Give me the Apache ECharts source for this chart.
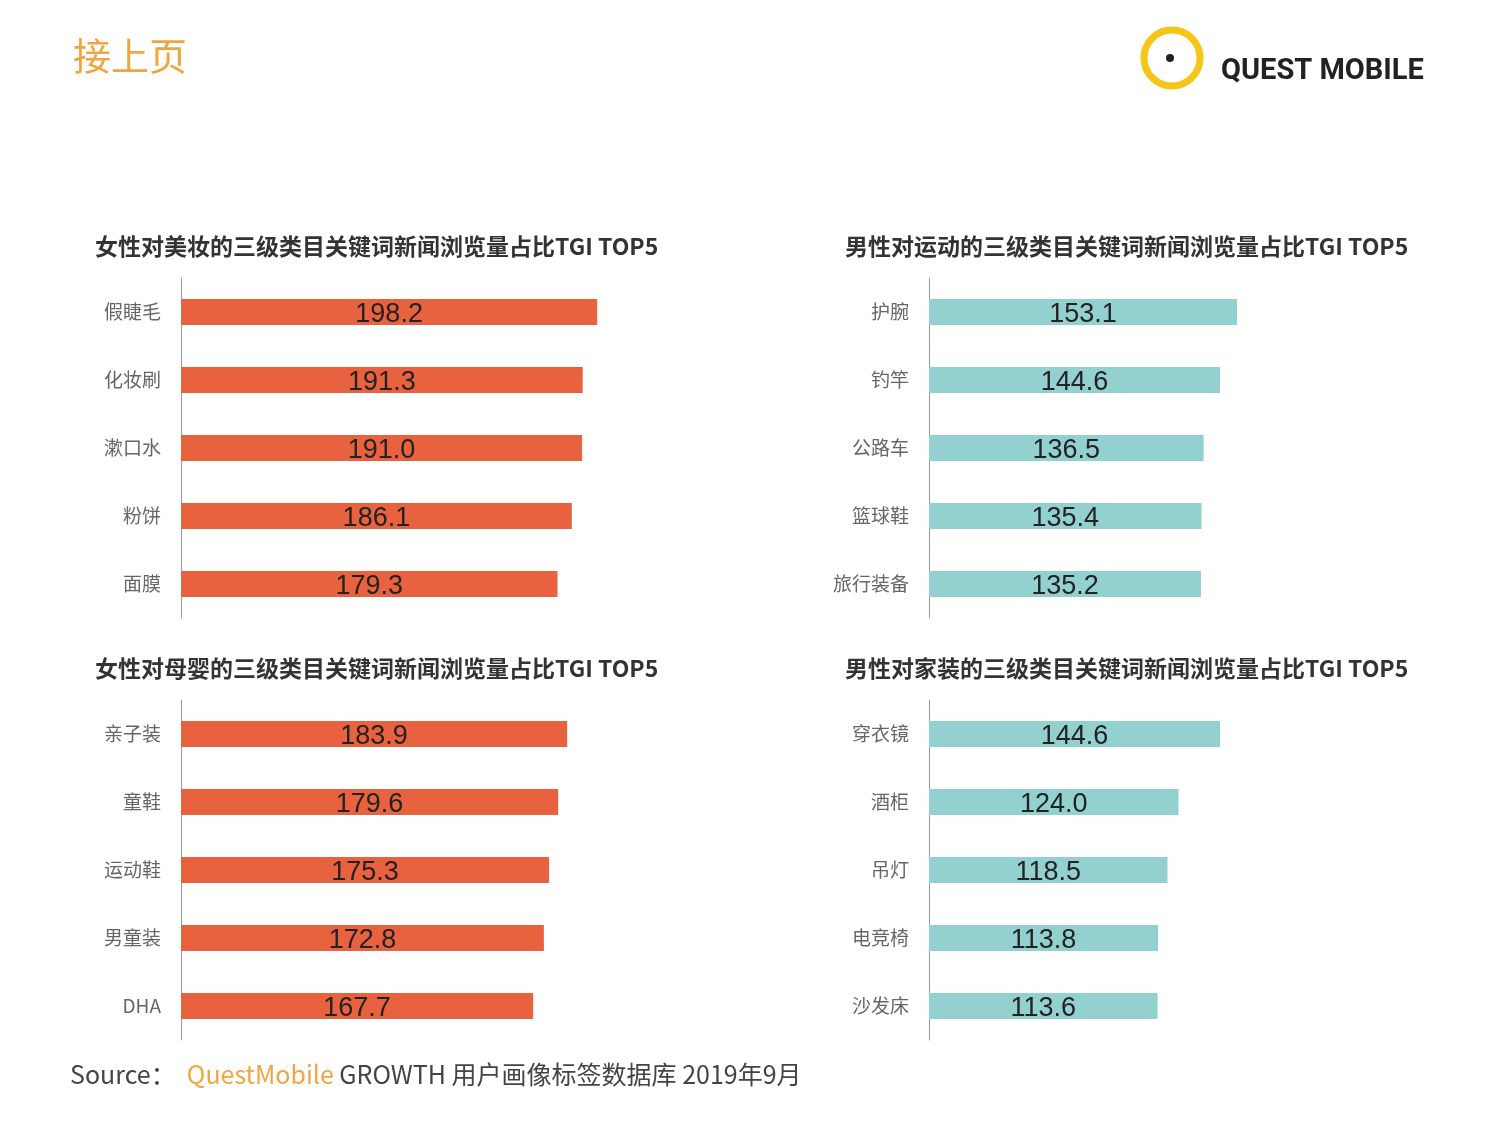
<!DOCTYPE html>
<html>
<head>
<meta charset="utf-8">
<script src="https://cdn.jsdelivr.net/npm/echarts@6/dist/echarts.min.js"></script>
<style>
    html,body{margin:0;padding:0;background:#fff;}
    #main{width:1500px;height:1128px;}
</style>
</head>
<body>
<div id="main"></div>
<script type="text/javascript">
    // 四个子图的数据
    var beautyCats = ['假睫毛', '化妆刷', '漱口水', '粉饼', '面膜'];
    var beautyVals = [198.2, 191.3, 191.0, 186.1, 179.3];
    var babyCats = ['亲子装', '童鞋', '运动鞋', '男童装', 'DHA'];
    var babyVals = [183.9, 179.6, 175.3, 172.8, 167.7];
    var sportCats = ['护腕', '钓竿', '公路车', '篮球鞋', '旅行装备'];
    var sportVals = [153.1, 144.6, 136.5, 135.4, 135.2];
    var homeCats = ['穿衣镜', '酒柜', '吊灯', '电竞椅', '沙发床'];
    var homeVals = [144.6, 124.0, 118.5, 113.8, 113.6];

    var titles = [
        '女性对美妆的三级类目关键词新闻浏览量占比TGI TOP5',
        '男性对运动的三级类目关键词新闻浏览量占比TGI TOP5',
        '女性对母婴的三级类目关键词新闻浏览量占比TGI TOP5',
        '男性对家装的三级类目关键词新闻浏览量占比TGI TOP5'
    ];

    var FONT = '"Noto Sans CJK SC", "Noto Sans", sans-serif';
    var panels = [
        {cats: beautyCats, vals: beautyVals, left: 181, top: 278, width: 420, max: 200, color: '#E8623F'},
        {cats: sportCats, vals: sportVals, left: 929, top: 278, width: 322, max: 160, color: '#93D1D1'},
        {cats: babyCats, vals: babyVals, left: 181, top: 700, width: 420, max: 200, color: '#E8623F'},
        {cats: homeCats, vals: homeVals, left: 929, top: 700, width: 322, max: 160, color: '#93D1D1'}
    ];

    var grid = [], xAxis = [], yAxis = [], series = [];
    panels.forEach(function (p, i) {
        grid.push({left: p.left, top: p.top, width: p.width, height: 340});
        xAxis.push({gridIndex: i, type: 'value', min: 0, max: p.max, show: false});
        yAxis.push({
            gridIndex: i, type: 'category', inverse: true, data: p.cats,
            axisLine: {lineStyle: {color: '#999', width: 1}},
            axisTick: {show: false},
            axisLabel: {color: '#666', fontSize: 19, margin: 20, fontFamily: FONT}
        });
        series.push({
            type: 'bar', xAxisIndex: i, yAxisIndex: i, data: p.vals,
            barWidth: 26, itemStyle: {color: p.color},
            label: {show: true, position: 'inside', offset: [0, 3], color: '#222', fontSize: 27,
                fontFamily: 'Arial, "Liberation Sans", sans-serif',
                formatter: function (d) { return d.value.toFixed(1); }}
        });
    });

    var myChart = echarts.init(document.getElementById('main'));
    var titleStyle = {color: '#333', fontSize: 23, fontWeight: 'bold', fontFamily: FONT};
    var option = {
        backgroundColor: '#fff',
        animation: false,
        title: [
            {text: '接上页', left: 68, top: 32, textStyle: {color: '#F0A640', fontSize: 38, fontWeight: 'normal', fontFamily: FONT}},
            {text: titles[0], left: 90, top: 230, textStyle: titleStyle},
            {text: titles[1], left: 840, top: 230, textStyle: titleStyle},
            {text: titles[2], left: 90, top: 652, textStyle: titleStyle},
            {text: titles[3], left: 840, top: 652, textStyle: titleStyle},
            {text: 'QUEST MOBILE', left: 1216, top: 52, textStyle: {color: '#222', fontSize: 29, fontWeight: 'bold', fontFamily: 'Roboto, sans-serif'}}
        ],
        graphic: [
            {type: 'circle', shape: {cx: 1172, cy: 58, r: 28}, style: {fill: 'none', stroke: '#F5C518', lineWidth: 7}},
            {type: 'circle', shape: {cx: 1170, cy: 58, r: 4}, style: {fill: '#222'}},
            {type: 'text', left: 70, top: 1062, style: {
                rich: {
                    a: {fill: '#444', fontSize: 25, fontFamily: FONT},
                    b: {fill: '#F0A640', fontSize: 25, fontFamily: FONT}
                },
                text: '{a|Source：  }{b|QuestMobile}{a| GROWTH 用户画像标签数据库 2019年9月}'
            }}
        ],
        grid: grid,
        xAxis: xAxis,
        yAxis: yAxis,
        series: series
    };
    myChart.setOption(option);
</script>
</body>
</html>
